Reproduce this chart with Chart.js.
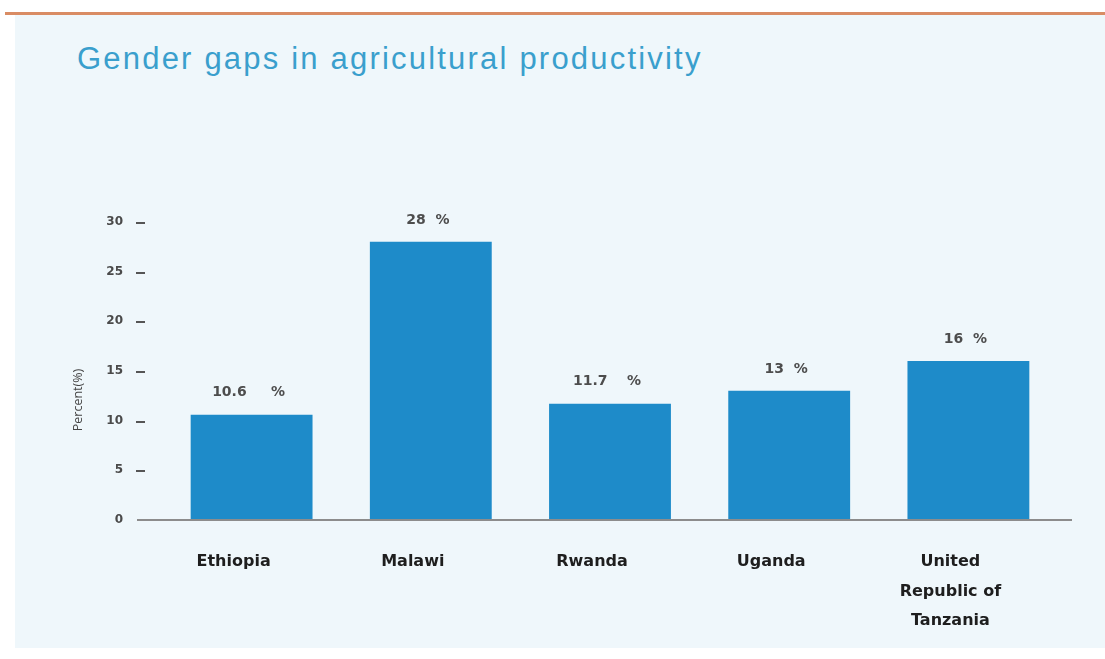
<!DOCTYPE html>
<html>
<head>
<meta charset="utf-8">
<script src="https://cdn.jsdelivr.net/npm/chart.js@4.4.0/dist/chart.umd.min.js"></script>
<style>
    html, body { margin: 0; padding: 0; background: #ffffff; }
    #wrap { position: relative; width: 1105px; height: 659px; overflow: hidden; }
    #topline { position: absolute; left: 5px; right: 0; top: 12px; height: 3px; background: #d98c64; }
    #panel { position: absolute; left: 15px; right: 0; top: 15px; height: 633px; background: #eff7fb; }
    #title { position: absolute; left: 77px; top: 41px; font-family: "Liberation Sans", Arial, sans-serif;
             font-size: 31px; letter-spacing: 2.2px; color: #3a9fcd; white-space: nowrap; }
    #chart { position: absolute; left: 0; top: 0; }
</style>
</head>
<body>
<div id="wrap">
    <div id="topline"></div>
    <div id="panel"></div>
    <div id="title">Gender gaps in agricultural productivity</div>
    <canvas id="chart" width="1105" height="659"></canvas>
</div>
<script>
    const categories = ["Ethiopia", "Malawi", "Rwanda", "Uganda", ["United", "Republic of", "Tanzania"]];
    const gapValues = [10.6, 28, 11.7, 13, 16];
    const valueLabels = ["10.6     %", "28  %", "11.7    %", "13  %", "16  %"];
    const yTicks = [0, 5, 10, 15, 20, 25, 30];
    const yTitle = "Percent(%)";

    // axis line, little tick dashes, axis title and value labels
    const decorations = {
        id: "decorations",
        afterDraw: (chart) => {
            const { ctx, chartArea } = chart;
            const y = chart.scales.y;
            const y0 = y.getPixelForValue(0);
            ctx.save();
            ctx.strokeStyle = "#8c8c8c";
            ctx.lineWidth = 2;
            ctx.beginPath();
            ctx.moveTo(chartArea.left - 25, y0);
            ctx.lineTo(chartArea.right + 14, y0);
            ctx.stroke();

            ctx.strokeStyle = "#555";
            ctx.beginPath();
            yTicks.forEach((t) => {
                if (t === 0) return;
                const py = Math.round(y.getPixelForValue(t)) + 1;
                ctx.moveTo(chartArea.left - 26, py);
                ctx.lineTo(chartArea.left - 17, py);
            });
            ctx.stroke();

            ctx.fillStyle = "#444";
            ctx.font = "12.5px 'Open Sans', sans-serif";
            ctx.textAlign = "center";
            ctx.textBaseline = "middle";
            ctx.translate(78, 400);
            ctx.rotate(-Math.PI / 2);
            ctx.fillText(yTitle, 0, 0);
            ctx.restore();

            ctx.save();
            ctx.fillStyle = "#4d4d4d";
            ctx.font = "bold 14px 'DejaVu Sans', sans-serif";
            ctx.textAlign = "center";
            ctx.textBaseline = "middle";
            chart.getDatasetMeta(0).data.forEach((bar, i) => {
                ctx.fillText(valueLabels[i], bar.x - 3, bar.y - 22);
            });
            ctx.restore();
        }
    };

    new Chart(document.getElementById("chart"), {
        type: "bar",
        data: {
            labels: categories,
            datasets: [{
                label: "Gender gap",
                data: gapValues,
                backgroundColor: "#1e8bc9",
                borderWidth: 0,
                categoryPercentage: 1,
                barPercentage: 0.68
            }]
        },
        options: {
            responsive: false,
            animation: false,
            events: [],
            layout: { padding: { left: 0, right: 47, top: 222, bottom: 19 } },
            plugins: {
                legend: { display: false },
                tooltip: { enabled: false }
            },
            scales: {
                x: {
                    grid: { display: false },
                    border: { display: false },
                    ticks: {
                        color: "#1e1e1e",
                        font: { family: "'DejaVu Sans', sans-serif", size: 16, weight: "bold", lineHeight: 1.85 },
                        padding: 19,
                        labelOffset: -18,
                        maxRotation: 0,
                        autoSkip: false
                    },
                    afterFit: (scale) => { scale.height = 120; }
                },
                y: {
                    min: 0,
                    max: 30,
                    grid: { display: false, drawTicks: false },
                    border: { display: false },
                    ticks: {
                        stepSize: 5,
                        color: "#4a4a4a",
                        padding: 39,
                        font: { family: "'DejaVu Sans', sans-serif", size: 12, weight: "bold" }
                    },
                    afterFit: (scale) => { scale.width = 162; }
                }
            }
        },
        plugins: [decorations]
    });
</script>
</body>
</html>
